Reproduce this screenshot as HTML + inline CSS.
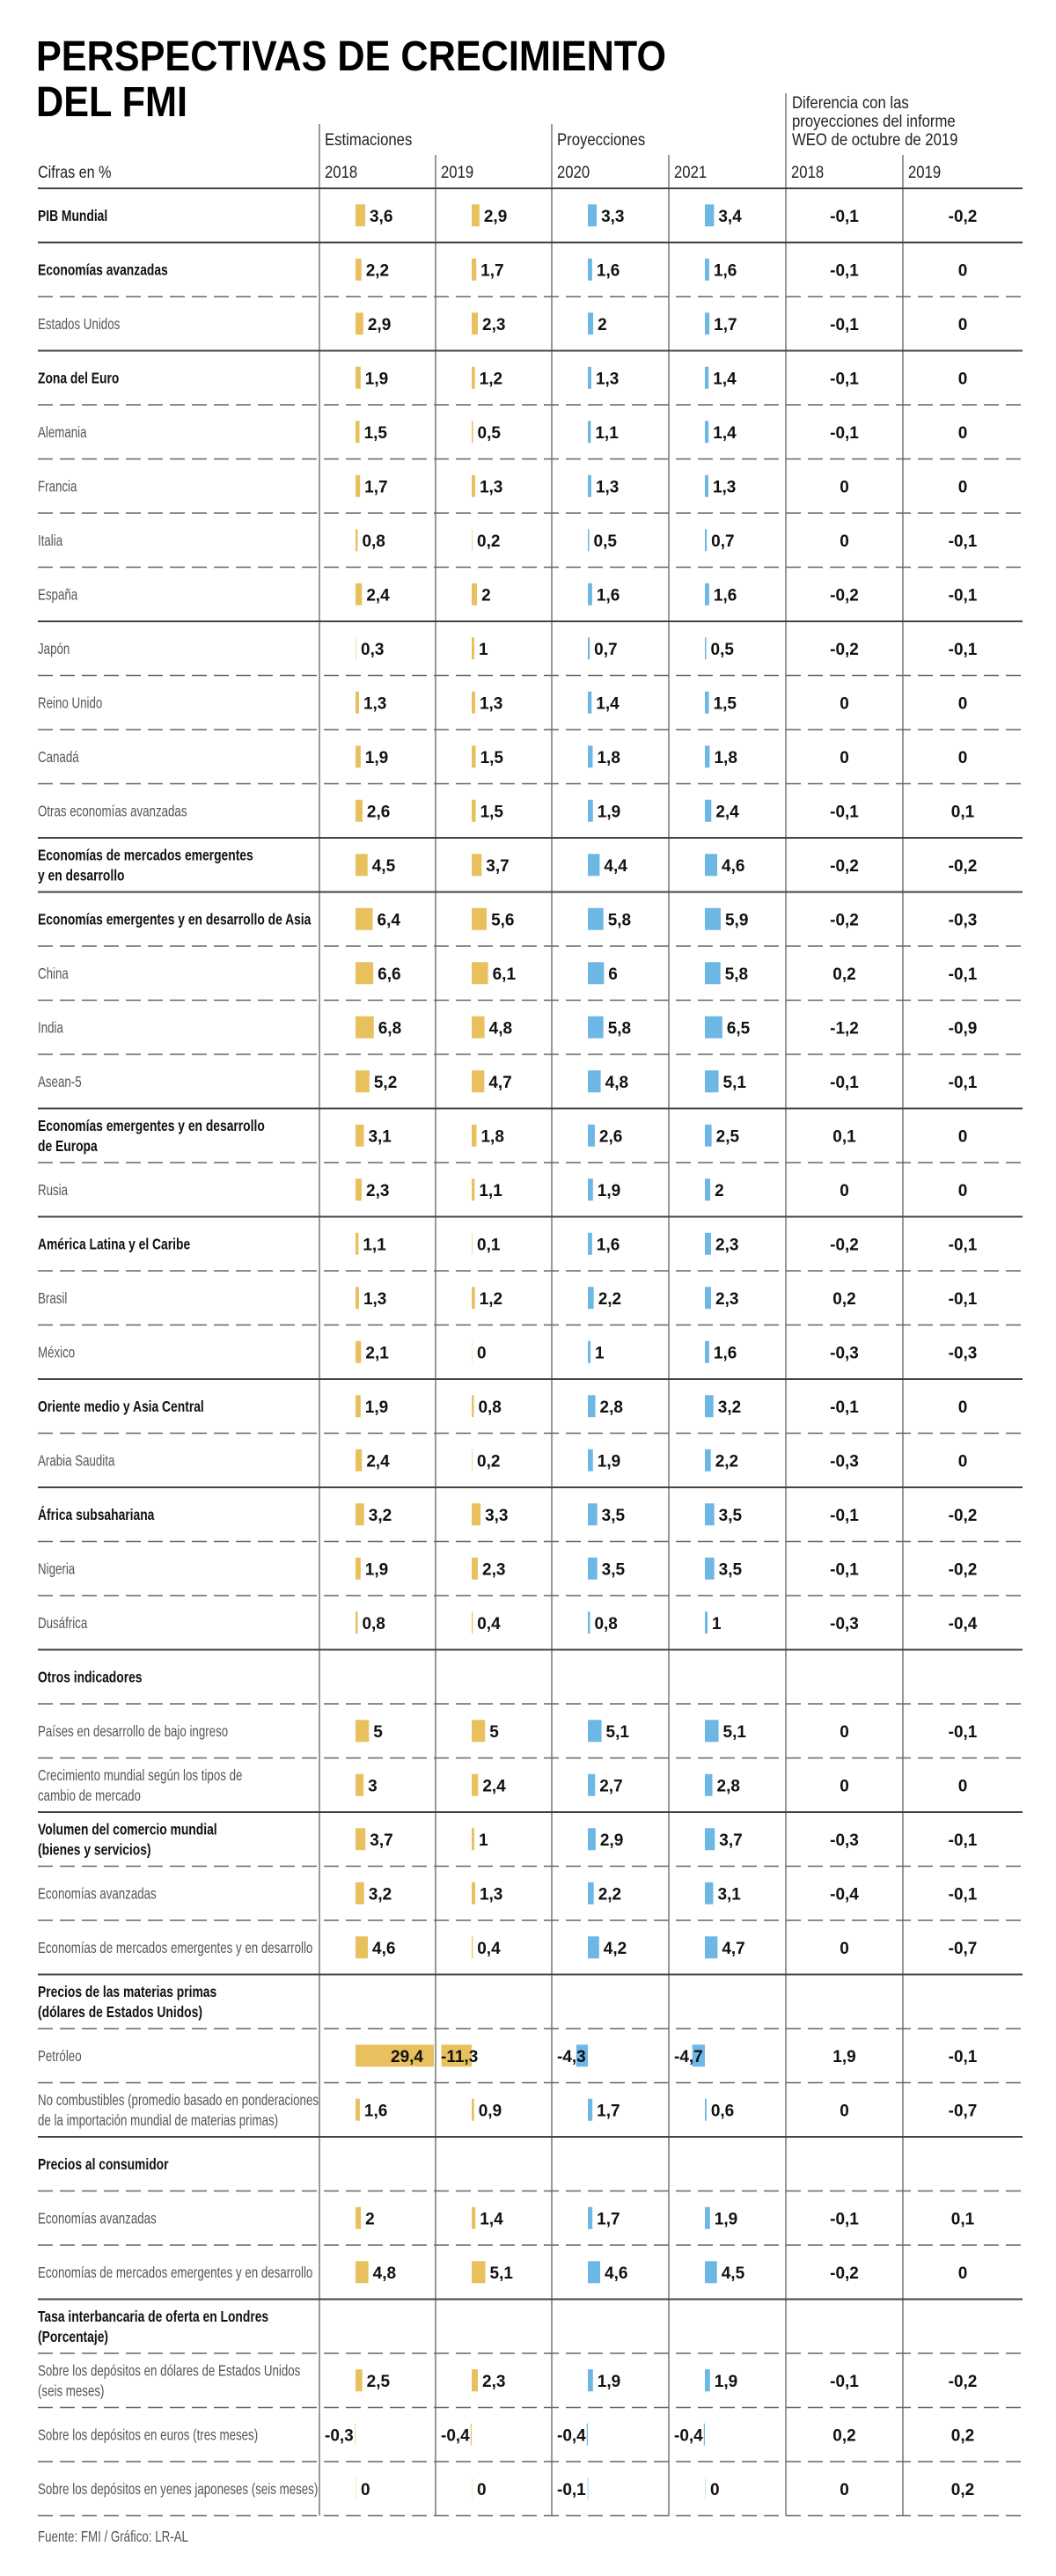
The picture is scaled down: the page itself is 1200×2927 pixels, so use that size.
<!DOCTYPE html>
<html><head><meta charset="utf-8"><style>
html,body{margin:0;padding:0;background:#fff;}
svg{display:block;}
text{font-family:"Liberation Sans",sans-serif;}
</style></head><body>
<svg id="chart" width="1200" height="2927" viewBox="0 0 1200 2927" xmlns="http://www.w3.org/2000/svg"></svg>
<script>
const cats=["PIB Mundial","Economías avanzadas","Estados Unidos","Zona del Euro","Alemania","Francia","Italia","España","Japón","Reino Unido","Canadá","Otras economías avanzadas","Economías de mercados emergentes|y en desarrollo","Economías emergentes y en desarrollo de Asia","China","India","Asean-5","Economías emergentes y en desarrollo|de Europa","Rusia","América Latina y el Caribe","Brasil","México","Oriente medio y Asia Central","Arabia Saudita","África subsahariana","Nigeria","Dusáfrica","Otros indicadores","Países en desarrollo de bajo ingreso","Crecimiento mundial según los tipos de|cambio de mercado","Volumen del comercio mundial|(bienes y servicios)","Economías avanzadas","Economías de mercados emergentes y en desarrollo","Precios de las materias primas|(dólares de Estados Unidos)","Petróleo","No combustibles (promedio basado en ponderaciones|de la importación mundial de materias primas)","Precios al consumidor","Economías avanzadas","Economías de mercados emergentes y en desarrollo","Tasa interbancaria de oferta en Londres|(Porcentaje)","Sobre los depósitos en dólares de Estados Unidos|(seis meses)","Sobre los depósitos en euros (tres meses)","Sobre los depósitos en yenes japoneses (seis meses)"];
const boldRows=[0,1,3,12,13,17,19,22,24,27,30,33,36,39];
const solidAfter=[0,2,7,11,12,16,18,21,23,26,29,32,35,38];
const v2018=[3.6,2.2,2.9,1.9,1.5,1.7,0.8,2.4,0.3,1.3,1.9,2.6,4.5,6.4,6.6,6.8,5.2,3.1,2.3,1.1,1.3,2.1,1.9,2.4,3.2,1.9,0.8,null,5,3,3.7,3.2,4.6,null,29.4,1.6,null,2,4.8,null,2.5,-0.3,0];
const v2019=[2.9,1.7,2.3,1.2,0.5,1.3,0.2,2,1,1.3,1.5,1.5,3.7,5.6,6.1,4.8,4.7,1.8,1.1,0.1,1.2,0,0.8,0.2,3.3,2.3,0.4,null,5,2.4,1,1.3,0.4,null,-11.3,0.9,null,1.4,5.1,null,2.3,-0.4,0];
const v2020=[3.3,1.6,2,1.3,1.1,1.3,0.5,1.6,0.7,1.4,1.8,1.9,4.4,5.8,6,5.8,4.8,2.6,1.9,1.6,2.2,1,2.8,1.9,3.5,3.5,0.8,null,5.1,2.7,2.9,2.2,4.2,null,-4.3,1.7,null,1.7,4.6,null,1.9,-0.4,-0.1];
const v2021=[3.4,1.6,1.7,1.4,1.4,1.3,0.7,1.6,0.5,1.5,1.8,2.4,4.6,5.9,5.8,6.5,5.1,2.5,2,2.3,2.3,1.6,3.2,2.2,3.5,3.5,1,null,5.1,2.8,3.7,3.1,4.7,null,-4.7,0.6,null,1.9,4.5,null,1.9,-0.4,0];
const diff2018=[-0.1,-0.1,-0.1,-0.1,-0.1,0,0,-0.2,-0.2,0,0,-0.1,-0.2,-0.2,0.2,-1.2,-0.1,0.1,0,-0.2,0.2,-0.3,-0.1,-0.3,-0.1,-0.1,-0.3,null,0,0,-0.3,-0.4,0,null,1.9,0,null,-0.1,-0.2,null,-0.1,0.2,0];
const diff2019=[-0.2,0,0,0,0,0,-0.1,-0.1,-0.1,0,0,0.1,-0.2,-0.3,-0.1,-0.9,-0.1,0,0,-0.1,-0.1,-0.3,0,0,-0.2,-0.2,-0.4,null,-0.1,0,-0.1,-0.1,-0.7,null,-0.1,-0.7,null,0.1,0,null,-0.2,0.2,0.2];

const svg=document.getElementById('chart');
const NS='http://www.w3.org/2000/svg';
const TOP=214, RH=61.5, LEFT=43, RIGHT=1162;
const colL=[363,495,627,760,893,1026,1162];
const PX=3.05;
const yRow=i=>TOP+i*RH;
const fmt=v=>String(v).replace('.',',');
function mk(tag,attrs,parent){const e=document.createElementNS(NS,tag);for(const k in attrs)e.setAttribute(k,attrs[k]);(parent||svg).appendChild(e);return e;}
function txt(s,x,y,size,weight,fill,sx,anchor){
  const t=mk('text',{transform:`translate(${x},${y}) scale(${sx||1},1)`,'font-size':size,'font-weight':weight||'normal',fill:fill||'#111','text-anchor':anchor||'start'});
  t.textContent=s;return t;
}
let t=txt('PERSPECTIVAS DE CRECIMIENTO',41,80,48,'bold','#000',0.9);

t=txt('DEL FMI',41,132,48,'bold','#000',0.9);

t=txt('Estimaciones',colL[0]+6,165,19,'normal','#222',0.88);
t=txt('Proyecciones',colL[2]+6,165,19,'normal','#222',0.88);
['Diferencia con las','proyecciones del informe','WEO de octubre de 2019'].forEach((s,k)=>{t=txt(s,colL[4]+7,123+k*21,19,'normal','#222',0.88);});
t=txt('Cifras en %',LEFT,202,19,'normal','#222',0.85);
const years=['2018','2019','2020','2021','2018','2019'];
years.forEach((y,k)=>{t=txt(y,colL[k]+6,202,19,'normal','#222',0.88);});
const vStart=[141,176,141,176,106,176];
vStart.forEach((s,k)=>{const l=mk('line',{x1:colL[k],x2:colL[k],y1:s,y2:yRow(cats.length),stroke:'#555','stroke-width':1.2});});
let hl=mk('line',{x1:LEFT,x2:RIGHT,y1:TOP,y2:TOP,stroke:'#444','stroke-width':2});
const series=[v2018,v2019,v2020,v2021];
const colors=['#e8c15e','#e8c15e','#6db7e5','#6db7e5'];
cats.forEach((c,i)=>{
  const top=yRow(i), cy=top+RH/2;
  const bold=boldRows.includes(i);
  const lines=c.split('|');
  lines.forEach((s,k)=>{
    const yy=cy+6+(k-(lines.length-1)/2)*23;
    const lt=txt(s,LEFT,yy,18,bold?'bold':'normal',bold?'#111':'#555',bold?0.77:0.74);
    
    
  });
  series.forEach((arr,k)=>{
    const v=arr[i]; if(v===null) return;
    const x0=colL[k]+41, cl=colL[k], cr=colL[k+1];
    let w=Math.abs(v)*PX; if(v===0) w=1;
    let bx=v>=0?x0:x0-w;
    if(v>0 && x0+w>cr-2){w=cr-2-x0;}
    if(v<0 && bx<cl+4){bx=cl+4;w=x0-bx;}
    const r=mk('rect',{x:bx,y:cy-12.5,width:Math.max(w,1),height:25,fill:colors[k],opacity:v===0?0.35:(Math.abs(v)<0.35?0.6:1)});
    
    
    let vt;
    if(v>=0){
      if(x0+Math.abs(v)*PX>cr-2){vt=txt(fmt(v),cr-14,cy+7,19,'bold','#111',1,'end');}
      else vt=txt(fmt(v),x0+Math.max(w,1)+5,cy+7,19,'bold','#111');
    } else {
      vt=txt(fmt(v),x0-4,cy+7,19,'bold','#111',1,'end');
      const tw=vt.getComputedTextLength();
      if(x0-4-tw<cl+6){vt.setAttribute('transform',`translate(${cl+6},${cy+7})`);vt.setAttribute('text-anchor','start');}
    }
    
    
  });
  [diff2018,diff2019].forEach((arr,k)=>{
    const v=arr[i]; if(v===null) return;
    const cx=(colL[4+k]+colL[5+k])/2;
    const dt=txt(fmt(v),cx,cy+7,19,'bold','#111',1,'middle');
    
    
  });
  const by=top+RH;
  const solid=solidAfter.includes(i);
  const sep=mk('line',{x1:LEFT,x2:RIGHT,y1:by,y2:by,stroke:solid?'#444':'#666','stroke-width':solid?2:1.5,'stroke-dasharray':solid?'none':'17 8'});
  
  
});
t=txt('Fuente: FMI / Gráfico: LR-AL',LEFT,2888,18,'normal','#555',0.74);

</script>
</body></html>
